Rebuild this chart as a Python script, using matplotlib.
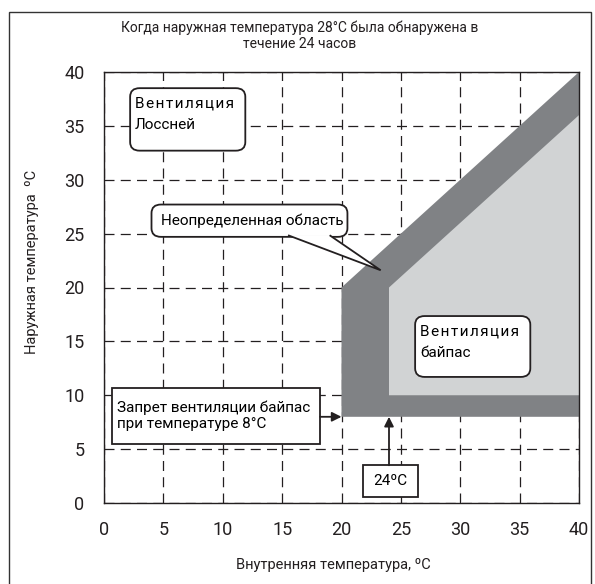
import numpy as np
import matplotlib.pyplot as plt
from matplotlib.patches import Polygon, FancyBboxPatch, Rectangle

plt.rcParams['font.family'] = ['Roboto', 'DejaVu Sans']

# --------------------------------------------------------------------------- #
#  Zones (indoor temperature x, outdoor temperature y), degrees C
# --------------------------------------------------------------------------- #
UNDEF_X = [20, 20, 40, 40]          # uncertain zone (dark band)
UNDEF_Y = [8, 20, 40, 8]
BYPASS_X = [24, 24, 40, 40]         # bypass ventilation zone
BYPASS_Y = [10, 20, 36, 10]
BYPASS_MIN_OUT = 8                  # bypass forbidden below 8 C outdoor
BYPASS_MIN_IN = 24                  # indoor threshold
TICKS = [0, 5, 10, 15, 20, 25, 30, 35, 40]

DARK = "#808285"
LIGHT = "#d1d3d4"
INK = "#231f20"
BOX_FS = 11

fig = plt.figure(figsize=(5.95, 5.84), dpi=100)
ax = fig.add_axes([104 / 595, 1 - 503 / 584, 475 / 595, 431 / 584])

# outer frame around the whole figure
fig.patches.append(Rectangle((9 / 595, -0.02), 582 / 595, 1.02 - 12 / 584,
                             transform=fig.transFigure, fill=False,
                             edgecolor="#333333", lw=1.0))

ax.set_xlim(0, 40)
ax.set_ylim(0, 40)
ax.set_xticks(TICKS)
ax.set_yticks(TICKS)
ax.tick_params(length=0, labelsize=13, colors=INK)
ax.tick_params(axis="x", pad=13)
ax.tick_params(axis="y", pad=14)
ax.set_axisbelow(True)
ax.grid(True, color=INK, lw=0.9, linestyle=(0, (8, 5)))
for s in ax.spines.values():
    s.set_linewidth(1.0)
    s.set_color(INK)

ax.add_patch(Polygon(list(zip(UNDEF_X, UNDEF_Y)), closed=True,
                     facecolor=DARK, edgecolor="none", zorder=1))
ax.add_patch(Polygon(list(zip(BYPASS_X, BYPASS_Y)), closed=True,
                     facecolor=LIGHT, edgecolor="none", zorder=2))


def spaced(s):
    return "\u200a".join(s)


def rbox(x0, y0, x1, y1, rounded=True):
    style = "round,pad=0,rounding_size=0.8" if rounded else "square,pad=0"
    ax.add_patch(FancyBboxPatch((x0, y0), x1 - x0, y1 - y0, boxstyle=style,
                                facecolor="white", edgecolor=INK,
                                lw=1.3, zorder=5, clip_on=False))


# Lossnay ventilation label
rbox(2.2, 32.7, 11.9, 38.5)
ax.text(2.6, 37.1, spaced("Вентиляция"), fontsize=BOX_FS, va="center", zorder=6)
ax.text(2.6, 35.1, "Лоссней", fontsize=BOX_FS, va="center", zorder=6)

# bypass ventilation label
rbox(26.2, 11.7, 35.9, 17.35)
ax.text(26.6, 15.9, spaced("Вентиляция"), fontsize=BOX_FS, va="center", zorder=6)
ax.text(26.6, 13.9, "байпас", fontsize=BOX_FS, va="center", zorder=6)

# callout for the uncertain zone
rbox(4.0, 24.7, 20.5, 27.7)
ax.add_patch(Polygon([(15.5, 24.85), (23.3, 21.6), (19.0, 24.85)], closed=False,
                     facecolor="white", edgecolor=INK, lw=1.3,
                     zorder=6, joinstyle="miter"))
ax.text(4.8, 26.2, "Неопределенная область", fontsize=BOX_FS, va="center", zorder=7)

# bypass prohibition below 8 C outdoor
rbox(0.67, 5.47, 18.2, 10.67, rounded=False)
ax.text(1.1, 8.1, "Запрет вентиляции байпас\nпри температуре 8°C",
        fontsize=BOX_FS, va="center", linespacing=1.15, zorder=6)
ax.annotate("", xy=(20, BYPASS_MIN_OUT), xytext=(18.2, BYPASS_MIN_OUT),
            arrowprops=dict(arrowstyle="-|>", color=INK, lw=1.3,
                            mutation_scale=14, shrinkA=0, shrinkB=0), zorder=6)

# indoor threshold 24 C
rbox(21.8, 0.56, 26.4, 3.5, rounded=False)
ax.text(24.1, 2.0, "24ºC", fontsize=BOX_FS, ha="center", va="center", zorder=6)
ax.annotate("", xy=(BYPASS_MIN_IN, BYPASS_MIN_OUT), xytext=(BYPASS_MIN_IN, 3.5),
            arrowprops=dict(arrowstyle="-|>", color=INK, lw=1.3,
                            mutation_scale=14, shrinkA=0, shrinkB=0), zorder=6)

fig.text(300 / 595, 1 - 36 / 584,
         "Когда наружная температура 28°C была обнаружена в\nтечение 24 часов",
         ha="center", va="center", fontsize=10, linespacing=1.2, color=INK)
fig.text(333 / 595, 1 - 565 / 584, "Внутренняя температура, ºC",
         ha="center", va="center", fontsize=10.5, color=INK)
fig.text(32 / 595, 1 - 262 / 584, "Наружная температура  ºC", rotation=90,
         ha="center", va="center", fontsize=10.5, color=INK)

fig.savefig("out.png", dpi=100)
